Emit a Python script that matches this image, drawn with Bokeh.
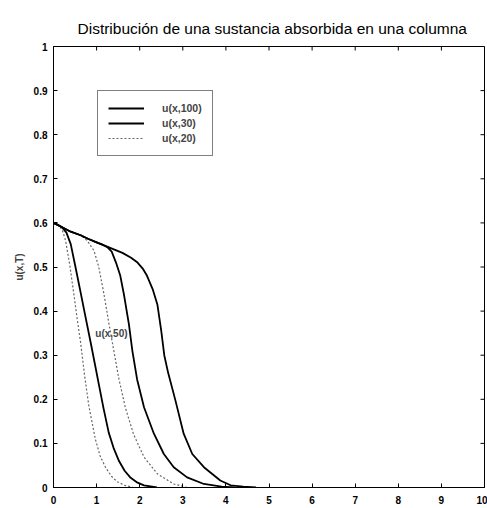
from bokeh.plotting import figure
from bokeh.models import Legend, LegendItem, Label, FixedTicker, Range1d
from bokeh.embed import file_html
from bokeh.resources import INLINE

# ---- data ----
x_t20 = [0, 0.1, 0.2, 0.28, 0.38, 0.47, 0.55, 0.63, 0.72, 0.82, 0.97, 1.08, 1.21, 1.35, 1.48, 1.65, 1.85]
u_t20 = [0.600, 0.595, 0.585, 0.560, 0.503, 0.440, 0.382, 0.328, 0.255, 0.185, 0.110, 0.072, 0.045, 0.025, 0.013, 0.005, 0.0]

x_t30 = [0, 0.1, 0.2, 0.3, 0.4, 0.51, 0.63, 0.74, 0.86, 0.96, 1.06, 1.16, 1.28, 1.4, 1.52, 1.65, 1.79, 1.95, 2.1, 2.4]
u_t30 = [0.600, 0.596, 0.590, 0.578, 0.552, 0.500, 0.442, 0.388, 0.330, 0.280, 0.230, 0.180, 0.125, 0.088, 0.060, 0.038, 0.022, 0.011, 0.005, 0.0]

x_t40 = [0, 0.2, 0.4, 0.63, 0.78, 0.94, 1.05, 1.17, 1.28, 1.40, 1.52, 1.67, 1.86, 2.10, 2.41, 2.79, 3.1]
u_t40 = [0.600, 0.590, 0.580, 0.572, 0.560, 0.537, 0.500, 0.439, 0.375, 0.310, 0.245, 0.180, 0.120, 0.069, 0.031, 0.008, 0.0]

x_t50 = [0, 0.2, 0.4, 0.63, 0.8, 1.0, 1.15, 1.25, 1.35, 1.45, 1.55, 1.63, 1.75, 1.83, 1.94, 2.10, 2.33, 2.56, 2.79, 3.10, 3.49, 3.9, 4.2]
u_t50 = [0.600, 0.590, 0.580, 0.572, 0.564, 0.556, 0.550, 0.545, 0.535, 0.510, 0.480, 0.440, 0.370, 0.310, 0.245, 0.182, 0.122, 0.076, 0.046, 0.023, 0.008, 0.002, 0.0]

x_t100 = [0, 0.2, 0.4, 0.63, 0.8, 1.0, 1.2, 1.4, 1.6, 1.8, 1.95, 2.08, 2.17, 2.30, 2.41, 2.50, 2.57, 2.66, 2.83, 3.02, 3.22, 3.49, 3.87, 4.11, 4.4, 4.7]
u_t100 = [0.600, 0.590, 0.580, 0.572, 0.564, 0.556, 0.548, 0.540, 0.532, 0.521, 0.510, 0.495, 0.480, 0.450, 0.415, 0.355, 0.300, 0.260, 0.197, 0.122, 0.076, 0.046, 0.016, 0.005, 0.002, 0.0]

legend_labels = ["u(x,100)", "u(x,30)", "u(x,20)"]
curve_label_text = "u(x,50)"
curve_label_x = 0.97
curve_label_y = 0.35

x_ticks = [0, 1, 2, 3, 4, 5, 6, 7, 8, 9, 10]
x_tick_labels = ["0", "1", "2", "3", "4", "5", "6", "7", "8", "9", "10"]
y_ticks = [0, 0.1, 0.2, 0.3, 0.4, 0.5, 0.6, 0.7, 0.8, 0.9, 1]
y_tick_labels = ["0", "0.1", "0.2", "0.3", "0.4", "0.5", "0.6", "0.7", "0.8", "0.9", "1"]

title_text = "Distribución de una sustancia absorbida en una columna"
y_label = "u(x,T)"

FONT = "Liberation Sans"
X_MIN, X_MAX, Y_MIN, Y_MAX = 0, 10, 0, 1
FRAME_W, FRAME_H = 431, 441

p = figure(width=487, height=508, output_backend="svg", toolbar_location=None,
           x_range=Range1d(X_MIN, X_MAX), y_range=Range1d(Y_MIN, Y_MAX),
           min_border_left=53, min_border_right=3, min_border_top=46, min_border_bottom=21)

p.title.text = title_text
p.title.align = "left"
p.title.offset = 24
p.title.vertical_align = "top"
p.title.standoff = 15
p.title.text_font = FONT
p.title.text_font_size = "15.5px"
p.title.text_font_style = "normal"
p.title.text_color = "black"

p.grid.visible = False
p.outline_line_color = "black"
p.outline_line_width = 1
p.background_fill_color = "white"
p.border_fill_color = "white"

solid = dict(line_color="black", line_width=1.8)
dotted = dict(line_color="#666666", line_width=1.2, line_dash="2 2")

r20 = p.line(x_t20, u_t20, **dotted)
r30 = p.line(x_t30, u_t30, **solid)
r40 = p.line(x_t40, u_t40, **dotted)
r50 = p.line(x_t50, u_t50, **solid)
r100 = p.line(x_t100, u_t100, **solid)

def style_axis(ax, ticks, labels):
    ax.ticker = FixedTicker(ticks=ticks)
    ax.major_label_overrides = {t: l for t, l in zip(ticks, labels)}
    ax.major_tick_in = 4
    ax.major_tick_out = 0
    ax.minor_tick_line_color = None
    ax.axis_line_color = "black"
    ax.major_tick_line_color = "black"
    ax.major_label_text_font = FONT
    ax.major_label_text_font_style = "bold"
    ax.major_label_text_color = "black"
    ax.major_label_text_font_size = "10px"

style_axis(p.xaxis[0], x_ticks, x_tick_labels)
p.xaxis[0].major_label_standoff = 8
style_axis(p.yaxis[0], y_ticks, y_tick_labels)
p.yaxis[0].major_label_standoff = 6
p.yaxis[0].axis_label = y_label
p.yaxis[0].axis_label_text_font = FONT
p.yaxis[0].axis_label_text_font_size = "10px"
p.yaxis[0].axis_label_text_font_style = "bold"
p.yaxis[0].axis_label_standoff = 6

# inward ticks on the top and right edges of the box (MATLAB style)
tick_dy = 4.0 / FRAME_H * (Y_MAX - Y_MIN)
tick_dx = 4.0 / FRAME_W * (X_MAX - X_MIN)
p.segment(x0=x_ticks, y0=[Y_MAX] * len(x_ticks), x1=x_ticks, y1=[Y_MAX - tick_dy] * len(x_ticks),
          line_color="black", line_width=1)
p.segment(x0=[X_MAX] * len(y_ticks), y0=y_ticks, x1=[X_MAX - tick_dx] * len(y_ticks), y1=y_ticks,
          line_color="black", line_width=1)

legend = Legend(items=[LegendItem(label=legend_labels[0], renderers=[r100]),
                       LegendItem(label=legend_labels[1], renderers=[r30]),
                       LegendItem(label=legend_labels[2], renderers=[r20])],
                location=(44, 331))
legend.border_line_color = "black"
legend.border_line_width = 1
legend.background_fill_color = "white"
legend.background_fill_alpha = 1
legend.label_text_font = FONT
legend.label_text_font_size = "10.5px"
legend.label_text_font_style = "bold"
legend.glyph_width = 36
legend.glyph_height = 14
legend.label_height = 14
legend.label_standoff = 18
legend.spacing = 1
legend.padding = 10
legend.margin = 0
p.add_layout(legend)

p.add_layout(Label(x=curve_label_x, y=curve_label_y, text=curve_label_text,
                   text_font=FONT, text_font_size="10px", text_font_style="bold",
                   text_baseline="middle", text_align="left"))

open("out.html", "w").write(file_html(p, INLINE))
